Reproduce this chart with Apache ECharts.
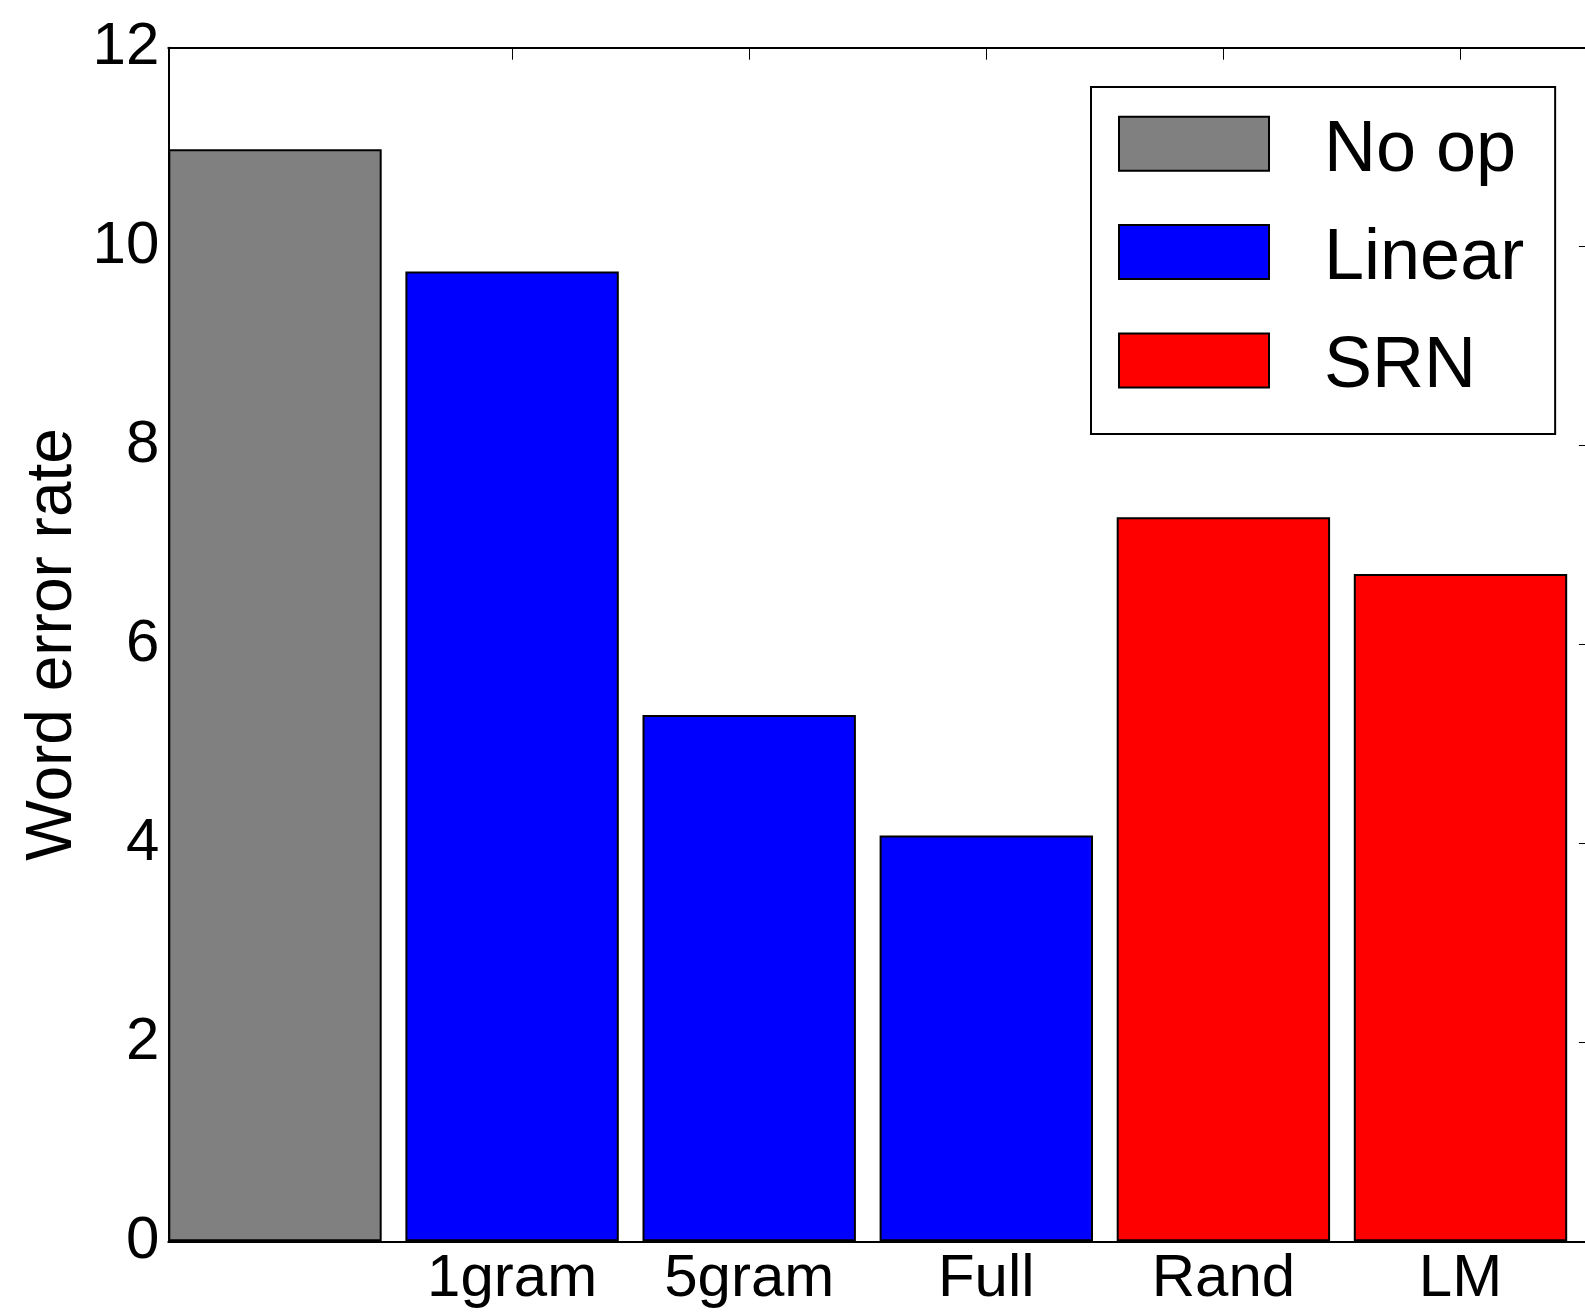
<!DOCTYPE html>
<html><head><meta charset="utf-8">
<script src="https://cdn.jsdelivr.net/npm/echarts@6/dist/echarts.min.js"></script>
<style>html,body{margin:0;padding:0;background:#fff}#c{width:1585px;height:1314px}</style>
</head><body><div id="c"></div>
<script>
// ---- data ----
const categories = ['', '1gram', '5gram', 'Full', 'Rand', 'LM'];
const seriesNames = ['No op', 'Linear', 'SRN'];
const noOpPos = [0];
const noOpVals = [10.98];
const linearPos = [1, 2, 3];
const linearVals = [9.75, 5.29, 4.08];
const srnPos = [4, 5];
const srnVals = [7.28, 6.71];
const yTickValues = [0, 2, 4, 6, 8, 10, 12];
const xTickValues = [1, 2, 3, 4, 5];
const yLabel = 'Word error rate';

// ---- layout ----
const FONT = '"Liberation Sans", Arial, Helvetica, sans-serif';
const xMin = -0.45, xMax = 5.55;
const gridLeft = 168.3, gridTop = 47.7, gridWidth = 1422.6, gridHeight = 1193.6;
const barW = gridWidth / (xMax - xMin) * 0.9;

function pairs(pos, vals) { return pos.map((p, i) => [p, vals[i]]); }

const chart = echarts.init(document.getElementById('c'), null, {renderer: 'canvas'});
const lineStyle = {color: '#000', width: 2};
const tickStyle = {color: '#000', width: 1};

function barSeries(name, color, data) {
  return {
    name: name, type: 'bar', xAxisIndex: 0, yAxisIndex: 0,
    data: data, barWidth: barW, stack: 'all',
    itemStyle: {color: color, borderColor: '#000', borderWidth: 2},
    emphasis: {disabled: true}, animation: false
  };
}

chart.setOption({
  animation: false,
  backgroundColor: '#fff',
  grid: {left: gridLeft, top: gridTop, width: gridWidth, height: gridHeight,
    containLabel: false, outerBoundsMode: 'none'},
  xAxis: [{
    type: 'value', min: xMin, max: xMax, position: 'bottom',
    axisLine: {show: true, onZero: false, lineStyle: lineStyle},
    axisTick: {show: true, inside: true, length: 12, lineStyle: tickStyle, customValues: xTickValues},
    axisLabel: {show: true, customValues: xTickValues, formatter: v => categories[Math.round(v)] || '',
      fontSize: 60, fontFamily: FONT, color: '#000', margin: 8},
    splitLine: {show: false}
  }, {
    type: 'value', min: xMin, max: xMax, position: 'top',
    axisLine: {show: true, onZero: false, lineStyle: lineStyle},
    axisTick: {show: true, inside: true, length: 12, lineStyle: tickStyle, customValues: xTickValues},
    axisLabel: {show: false},
    splitLine: {show: false}
  }],
  yAxis: [{
    type: 'value', min: 0, max: 12, interval: 2, position: 'left',
    name: yLabel, nameLocation: 'middle', nameRotate: 90, nameGap: 83, nameMoveOverlap: false,
    nameTextStyle: {fontSize: 64, fontFamily: FONT, color: '#000'},
    axisLine: {show: true, onZero: false, lineStyle: lineStyle},
    axisTick: {show: true, inside: true, length: 12, lineStyle: tickStyle},
    axisLabel: {fontSize: 60, fontFamily: FONT, color: '#000', margin: 9},
    splitLine: {show: false}
  }, {
    type: 'value', min: 0, max: 12, interval: 2, position: 'right',
    axisLine: {show: true, onZero: false, lineStyle: lineStyle},
    axisTick: {show: true, inside: true, length: 12, lineStyle: tickStyle},
    axisLabel: {show: false},
    splitLine: {show: false}
  }],
  legend: {
    data: seriesNames,
    orient: 'vertical', left: 1091, top: 87,
    padding: [27.7, 31, 30.4, 27],
    itemWidth: 150, itemHeight: 54, itemGap: 36.4,
    icon: 'rect',
    backgroundColor: '#fff', borderColor: '#000', borderWidth: 2,
    formatter: name => '{t|' + name + '}',
    textStyle: {fontSize: 72, fontFamily: FONT, color: '#000',
      rich: {t: {fontSize: 72, fontFamily: FONT, color: '#000', padding: [14, 0, 0, 50]}}},
    selectedMode: false
  },
  series: [
    barSeries(seriesNames[0], '#808080', pairs(noOpPos, noOpVals)),
    barSeries(seriesNames[1], '#0000ff', pairs(linearPos, linearVals)),
    barSeries(seriesNames[2], '#ff0000', pairs(srnPos, srnVals))
  ]
});
</script>
</body></html>
